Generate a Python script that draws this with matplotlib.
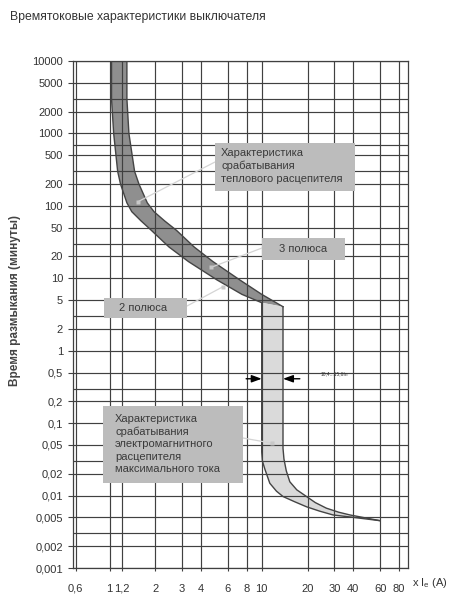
import matplotlib
matplotlib.use("Agg")
import matplotlib.pyplot as plt
from matplotlib.patches import Rectangle

plt.rcParams['font.family'] = ['Liberation Sans', 'DejaVu Sans']

# ---------------- data ----------------
x_ticks = [0.6, 1, 1.2, 2, 3, 4, 6, 8, 10, 20, 30, 40, 60, 80]
x_labels = ['0,6', '1', '1,2', '2', '3', '4', '6', '8', '10', '20', '30', '40', '60', '80']
y_ticks = [10000, 5000, 2000, 1000, 500, 200, 100, 50, 20, 10, 5, 2, 1,
           0.5, 0.2, 0.1, 0.05, 0.02, 0.01, 0.005, 0.002, 0.001]
y_labels = ['10000', '5000', '2000', '1000', '500', '200', '100', '50', '20', '10', '5', '2', '1',
            '0,5', '0,2', '0,1', '0,05', '0,02', '0,01', '0,005', '0,002', '0,001']
y_extra_grid = [3000, 700, 300, 30, 3, 0.3, 0.03, 0.003]

# thermal release band (dark)
therm_left_x = [1.03, 1.03, 1.064, 1.13, 1.18, 1.30, 1.40, 1.61, 1.88, 2.46, 3.30, 5.08, 7.41, 10.0]
therm_left_y = [10000, 3000, 1000, 300, 200, 110, 83, 62, 46, 27, 17, 9.5, 6.0, 4.6]
therm_right_x = [1.30, 1.30, 1.34, 1.46, 1.56, 1.77, 1.96, 2.30, 2.75, 3.60, 4.78, 7.17, 10.0, 13.8]
therm_right_y = [10000, 3000, 1000, 300, 200, 110, 83, 62, 46, 27, 17, 9.5, 6.0, 4.05]

# electromagnetic release band (light)
mag_left_x = [10.0, 10.0, 10.1, 10.5, 11.3, 12.5, 13.8, 16.5, 19.7, 24.0, 29.4, 40.0, 60.0]
mag_left_y = [4.6, 0.04, 0.03, 0.023, 0.0148, 0.0115, 0.0097, 0.0082, 0.0070, 0.0061, 0.0054, 0.0050, 0.0045]
mag_right_x = [13.8, 13.8, 14.0, 14.5, 15.3, 17.0, 19.7, 22.5, 26.6, 32.0, 38.0, 60.0]
mag_right_y = [4.05, 0.045, 0.032, 0.022, 0.0155, 0.0120, 0.0097, 0.0080, 0.0067, 0.0059, 0.0054, 0.0045]

# ---------------- figure ----------------
W, H = 466, 600
fig = plt.figure(figsize=(W / 100, H / 100), dpi=100)
ax = fig.add_axes([73 / W, 1 - 568 / H, (408 - 73) / W, (568 - 61) / H])
ax.set_xscale('log')
ax.set_yscale('log')
ax.set_xlim(0.575, 91.5)
ax.set_ylim(0.001, 10000)

grid_c = '#404040'
ax.set_xticks(x_ticks)
ax.set_xticklabels(x_labels)
ax.set_xticks([], minor=True)
ax.set_yticks(y_ticks)
ax.set_yticklabels(y_labels)
ax.set_yticks(y_extra_grid, minor=True)
ax.tick_params(axis='y', which='major', direction='out', length=3.6, width=0.8,
               color=grid_c, labelsize=8, labelcolor='#333333', pad=3.6)
ax.tick_params(axis='y', which='minor', length=0)
ax.tick_params(axis='x', which='major', direction='out', length=2.2, width=0.8,
               color=grid_c, labelsize=8, labelcolor='#333333', pad=9)
ax.grid(True, which='both', color=grid_c, linewidth=0.85)
for s in ax.spines.values():
    s.set_color(grid_c)
    s.set_linewidth(0.9)

# bands
th_x = therm_left_x + therm_right_x[::-1]
th_y = therm_left_y + therm_right_y[::-1]
ax.fill(th_x, th_y, facecolor='#8f8f8f', edgecolor='none', zorder=1)
mg_x = mag_left_x + mag_right_x[::-1]
mg_y = mag_left_y + mag_right_y[::-1]
ax.fill(mg_x, mg_y, facecolor='#dadada', edgecolor='none', zorder=1)
for xs, ys in [(therm_left_x, therm_left_y), (therm_right_x, therm_right_y),
               (mag_left_x, mag_left_y), (mag_right_x, mag_right_y)]:
    ax.plot(xs, ys, color='#444444', lw=1.0, zorder=3, solid_joinstyle='round')

# arrows marking 10.4...15.6 In
arrow_y = 0.41
ax.annotate('', xy=(10.0, arrow_y), xytext=(7.9, arrow_y),
            arrowprops=dict(arrowstyle='-|>,head_length=0.6,head_width=0.22', color='black', lw=1.0,
                            shrinkA=0, shrinkB=0), zorder=5)
ax.annotate('', xy=(13.8, arrow_y), xytext=(17.8, arrow_y),
            arrowprops=dict(arrowstyle='-|>,head_length=0.6,head_width=0.22', color='black', lw=1.0,
                            shrinkA=0, shrinkB=0), zorder=5)
ax.text(24.5, 0.48, '10,4...15,6In', fontsize=3.5, color='#333333', va='center', ha='left', zorder=5)

# ---------------- annotation boxes ----------------
box_c = '#bcbcbc'
txt_c = '#3a3a3a'
lead_c = '#d4d4d4'


def fx(px):
    return px / W


def fy(py):
    return 1 - py / H


def box(x0, y0, x1, y1):
    r = Rectangle((fx(x0), fy(y1)), fx(x1) - fx(x0), fy(y0) - fy(y1),
                  transform=fig.transFigure, facecolor=box_c, edgecolor='none', zorder=6)
    fig.patches.append(r)


def leader(px, py, xd, yd):
    ax.annotate('', xy=(xd, yd), xycoords='data', xytext=(fx(px), fy(py)),
                textcoords='figure fraction',
                arrowprops=dict(arrowstyle='-', color=lead_c, lw=0.9, shrinkA=0, shrinkB=0),
                zorder=4)
    ax.plot([xd], [yd], marker='s', ms=2.5, color='#c8c8c8', mec='none', zorder=4)


leader(215, 162, 1.535, 114)
leader(262, 248, 4.67, 14.2)
leader(187, 306, 5.56, 7.65)
leader(243, 438, 11.6, 0.053)

box(215, 143, 355, 191)
fig.text(fx(221), fy(166), 'Характеристика\nсрабатывания\nтеплового расцепителя',
         fontsize=8, color=txt_c, ha='left', va='center', linespacing=1.3, zorder=7)
box(262, 238, 345, 260)
fig.text(fx(303), fy(249), '3 полюса', fontsize=8, color=txt_c, ha='center', va='center', zorder=7)
box(104, 298, 187, 318)
fig.text(fx(143), fy(308), '2 полюса', fontsize=8, color=txt_c, ha='center', va='center', zorder=7)
box(103, 406, 243, 483)
fig.text(fx(115), fy(444), 'Характеристика\nсрабатывания\nэлектромагнитного\nрасцепителя\nмаксимального тока',
         fontsize=8, color=txt_c, ha='left', va='center', linespacing=1.3, zorder=7)

# ---------------- titles ----------------
fig.text(fx(10), fy(17), 'Времятоковые характеристики выключателя', fontsize=8.8,
         color='#333333', ha='left', va='center')
fig.text(fx(15), fy(300), 'Время размыкания (минуты)', fontsize=8.5, fontweight='bold',
         color='#444444', rotation=90, ha='center', va='center')
fig.text(fx(412), fy(583), r'x I$_{\mathregular{e}}$ (A)', fontsize=8, color='#333333',
         ha='left', va='center')

fig.savefig('out.png', dpi=100)
